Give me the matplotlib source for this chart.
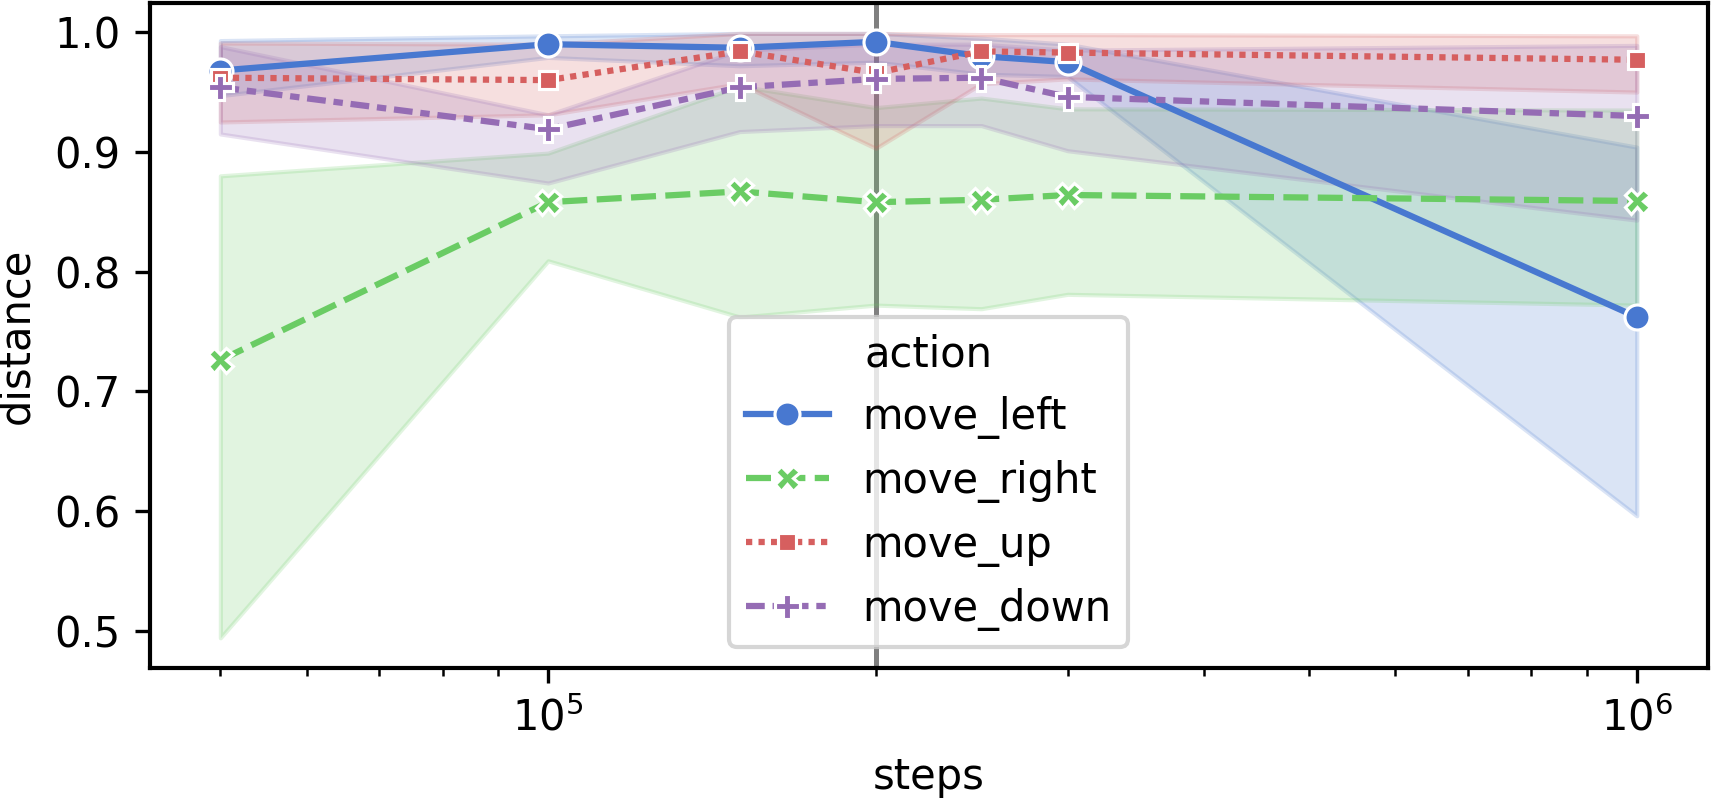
import numpy as np
import matplotlib
matplotlib.use('Agg')
import matplotlib.pyplot as plt

# ── Datos ───────────────────────────────────────────────────────────────────
steps = [5e4, 1e5, 1.5e5, 2e5, 2.5e5, 3e5, 1e6]

actions = ['move_left', 'move_right', 'move_up', 'move_down']

left_mean = [0.968, 0.990, 0.987, 0.992, 0.980, 0.975, 0.762]
left_lo   = [0.947, 0.979, 0.972, 0.975, 0.965, 0.963, 0.596]
left_hi   = [0.993, 0.997, 0.999, 0.999, 0.995, 0.990, 0.904]

right_mean = [0.726, 0.858, 0.867, 0.858, 0.860, 0.864, 0.859]
right_lo   = [0.494, 0.809, 0.762, 0.772, 0.769, 0.781, 0.772]
right_hi   = [0.880, 0.899, 0.955, 0.937, 0.945, 0.936, 0.935]

up_mean = [0.962, 0.960, 0.984, 0.966, 0.984, 0.983, 0.977]
up_lo   = [0.925, 0.931, 0.957, 0.903, 0.957, 0.961, 0.950]
up_hi   = [0.991, 0.990, 0.999, 0.999, 0.998, 0.998, 0.997]

down_mean = [0.954, 0.919, 0.954, 0.961, 0.962, 0.946, 0.930]
down_lo   = [0.915, 0.874, 0.917, 0.922, 0.922, 0.901, 0.843]
down_hi   = [0.988, 0.931, 0.985, 0.990, 0.990, 0.985, 0.989]

vline_step = 2e5

# ── Estilo ──────────────────────────────────────────────────────────────────
colors = ['#4878d0', '#6acc64', '#d65f5f', '#956cb4']
markers = ['o', 'X', (4, 0, 45), 'P']
dashes = [(None, None), (4, 1.5), (1, 1), (3, 1.25, 1.5, 1.25)]

series = [
    (left_mean, left_lo, left_hi),
    (right_mean, right_lo, right_hi),
    (up_mean, up_lo, up_hi),
    (down_mean, down_lo, down_hi),
]

plt.rcParams['font.family'] = 'DejaVu Sans'
plt.rcParams['font.size'] = 10

fig = plt.figure(figsize=(1711 / 300, 801 / 300), dpi=300)
ax = fig.add_axes([0.0874, 0.166, 0.9106, 0.830])

ax.axvline(vline_step, color='grey', linewidth=1.2, zorder=1)

for name, (m, lo, hi), c, mk, d in zip(actions, series, colors, markers, dashes):
    line, = ax.plot(steps, m, color=c, marker=mk, markersize=6,
                    markeredgecolor='white', markeredgewidth=0.75,
                    linewidth=1.5, label=name, zorder=2)
    if d[0] is not None:
        line.set_dashes(d)
    ax.fill_between(steps, lo, hi, color=c, alpha=0.2, linewidth=1.0)

ax.set_xscale('log')
ax.set_xlabel('steps')
ax.set_ylabel('distance')
ax.set_yticks([0.5, 0.6, 0.7, 0.8, 0.9, 1.0])

for sp in ax.spines.values():
    sp.set_linewidth(1.0)

ax.legend(title='action', loc='lower center', fontsize=10, title_fontsize=10)

plt.savefig('out.png', dpi=300)
